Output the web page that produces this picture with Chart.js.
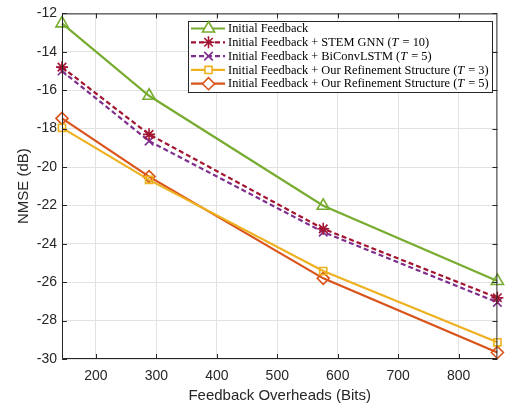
<!DOCTYPE html>
<html>
<head>
<meta charset="utf-8">
<script src="https://cdn.jsdelivr.net/npm/chart.js@4/dist/chart.umd.min.js"></script>
<style>
    html, body { margin: 0; padding: 0; background: #fff; }
    #wrap { width: 506px; height: 405px; }
</style>
</head>
<body>
<div id="wrap"><canvas id="nmse-chart" width="506" height="405"></canvas></div>
<script>
// ============================================
// NMSE vs feedback overheads
// ============================================

const overheads = [144, 288, 576, 864];

const initialFeedback = [-12.52, -16.29, -22.02, -25.94];
const stemGnn         = [-14.80, -18.30, -23.22, -26.81];
const biConvLstm      = [-15.00, -18.65, -23.39, -27.05];
const ourT3           = [-17.96, -20.67, -25.42, -29.13];
const ourT5           = [-17.47, -20.50, -25.80, -29.66];

const xTicks = [200, 300, 400, 500, 600, 700, 800];
const yTicks = [-30, -28, -26, -24, -22, -20, -18, -16, -14, -12];

const seriesNames = [
    'Initial Feedback',
    'Initial Feedback + STEM GNN (T = 10)',
    'Initial Feedback + BiConvLSTM (T = 5)',
    'Initial Feedback + Our Refinement Structure (T = 3)',
    'Initial Feedback + Our Refinement Structure (T = 5)'
];

const AXIS_COLOR = '#262626';
const SANS = '"Liberation Sans", Arial, sans-serif';
const SERIF = '"Liberation Serif", "Times New Roman", serif';

function makeSeries(name, values, color, pointStyle, dash) {
    return {
        label: name,
        data: values.map((v, i) => ({ x: overheads[i], y: v })),
        borderColor: color,
        backgroundColor: color,
        borderWidth: 2.2,
        borderDash: dash,
        pointStyle: pointStyle,
        pointRadius: pointStyle === 'rect' ? 5 : (pointStyle === 'triangle' ? 7 : 6),
        pointBorderWidth: 1.6,
        pointBackgroundColor: 'rgba(0,0,0,0)',
        pointBorderColor: color,
        tension: 0,
        clip: false
    };
}

const datasets = [
    makeSeries(seriesNames[0], initialFeedback, '#77AC30', 'triangle', []),
    makeSeries(seriesNames[1], stemGnn, '#A2142F', 'star', [5, 3]),
    makeSeries(seriesNames[2], biConvLstm, '#7E2F8E', 'crossRot', [5, 3]),
    makeSeries(seriesNames[3], ourT3, '#EDB120', 'rect', []),
    makeSeries(seriesNames[4], ourT5, '#D95319', 'rectRot', [])
];

// box + inner ticks, MATLAB style
const framePlugin = {
    id: 'frame',
    afterDatasetsDraw(chart) {
        const { ctx, chartArea: a, scales } = chart;
        ctx.save();
        ctx.strokeStyle = AXIS_COLOR;
        ctx.lineWidth = 1;
        ctx.beginPath();
        ctx.rect(a.left + 0.5, a.top + 0.5, a.right - a.left - 1, a.bottom - a.top - 1);
        const tl = 5;
        xTicks.forEach(v => {
            const x = Math.round(scales.x.getPixelForValue(v)) + 0.5;
            ctx.moveTo(x, a.bottom); ctx.lineTo(x, a.bottom - tl);
            ctx.moveTo(x, a.top); ctx.lineTo(x, a.top + tl);
        });
        yTicks.forEach(v => {
            const y = Math.round(scales.y.getPixelForValue(v)) + 0.5;
            ctx.moveTo(a.left, y); ctx.lineTo(a.left + tl, y);
            ctx.moveTo(a.right, y); ctx.lineTo(a.right - tl, y);
        });
        ctx.stroke();
        ctx.restore();
    }
};

// legend box in the top right with line + marker samples
const legendPlugin = {
    id: 'boxLegend',
    afterDraw(chart) {
        const ctx = chart.ctx;
        const box = { left: 188, top: 21, right: 493, bottom: 93 };
        ctx.save();
        ctx.fillStyle = '#fff';
        ctx.fillRect(box.left, box.top, box.right - box.left, box.bottom - box.top);
        ctx.strokeStyle = AXIS_COLOR;
        ctx.lineWidth = 1;
        ctx.strokeRect(box.left + 0.5, box.top + 0.5, box.right - box.left - 1, box.bottom - box.top - 1);

        const rowH = 13.8;
        chart.data.datasets.forEach((ds, i) => {
            const y = box.top + 7.5 + i * rowH;
            ctx.save();
            ctx.strokeStyle = ds.borderColor;
            ctx.lineWidth = 2.2;
            ctx.setLineDash(ds.borderDash);
            ctx.beginPath();
            ctx.moveTo(191, y);
            ctx.lineTo(225, y);
            ctx.stroke();
            ctx.setLineDash([]);
            ctx.lineWidth = ds.pointBorderWidth;
            ctx.fillStyle = '#fff';
            Chart.helpers.drawPoint(ctx, {
                pointStyle: ds.pointStyle,
                radius: ds.pointRadius,
                borderWidth: ds.pointBorderWidth
            }, 208.5, y);
            ctx.restore();

            // label, with italic T inside "(T = n)"
            ctx.fillStyle = '#000';
            ctx.textBaseline = 'middle';
            const m = ds.label.match(/^(.*\()T( = \d+\))$/);
            let x = 228;
            const parts = m ? [[m[1], false], ['T', true], [m[2], false]] : [[ds.label, false]];
            parts.forEach(([txt, italic]) => {
                ctx.font = (italic ? 'italic ' : '') + '12.4px ' + SERIF;
                ctx.fillText(txt, x, y + 0.5);
                x += ctx.measureText(txt).width + (italic ? 1 : 0);
            });
        });
        ctx.restore();
    }
};

new Chart(document.getElementById('nmse-chart'), {
    type: 'line',
    data: { datasets },
    options: {
        responsive: false,
        animation: false,
        devicePixelRatio: 1,
        layout: { padding: { top: 13, right: 4, left: 0, bottom: 0 } },
        plugins: {
            legend: { display: false },
            tooltip: { enabled: false }
        },
        scales: {
            x: {
                type: 'linear',
                min: 144,
                max: 864,
                afterBuildTicks: s => { s.ticks = xTicks.map(v => ({ value: v })); },
                afterFit: s => { s.height = 46; },
                grid: { color: '#e2e2e2', drawTicks: false },
                border: { display: false },
                ticks: { color: AXIS_COLOR, font: { family: SANS, size: 14 }, padding: 9 },
                title: {
                    display: true,
                    text: 'Feedback Overheads (Bits)',
                    color: AXIS_COLOR,
                    font: { family: SANS, size: 15 },
                    padding: { top: 0, bottom: 0 }
                }
            },
            y: {
                type: 'linear',
                min: -30,
                max: -12,
                afterBuildTicks: s => { s.ticks = yTicks.map(v => ({ value: v })); },
                afterFit: s => { s.width = 62; },
                grid: { color: '#e2e2e2', drawTicks: false },
                border: { display: false },
                ticks: { color: AXIS_COLOR, font: { family: SANS, size: 14 }, padding: 5 },
                title: {
                    display: true,
                    text: 'NMSE (dB)',
                    color: AXIS_COLOR,
                    font: { family: SANS, size: 15 },
                    padding: { top: 15, bottom: 0 }
                }
            }
        }
    },
    plugins: [framePlugin, legendPlugin]
});
</script>
</body>
</html>
